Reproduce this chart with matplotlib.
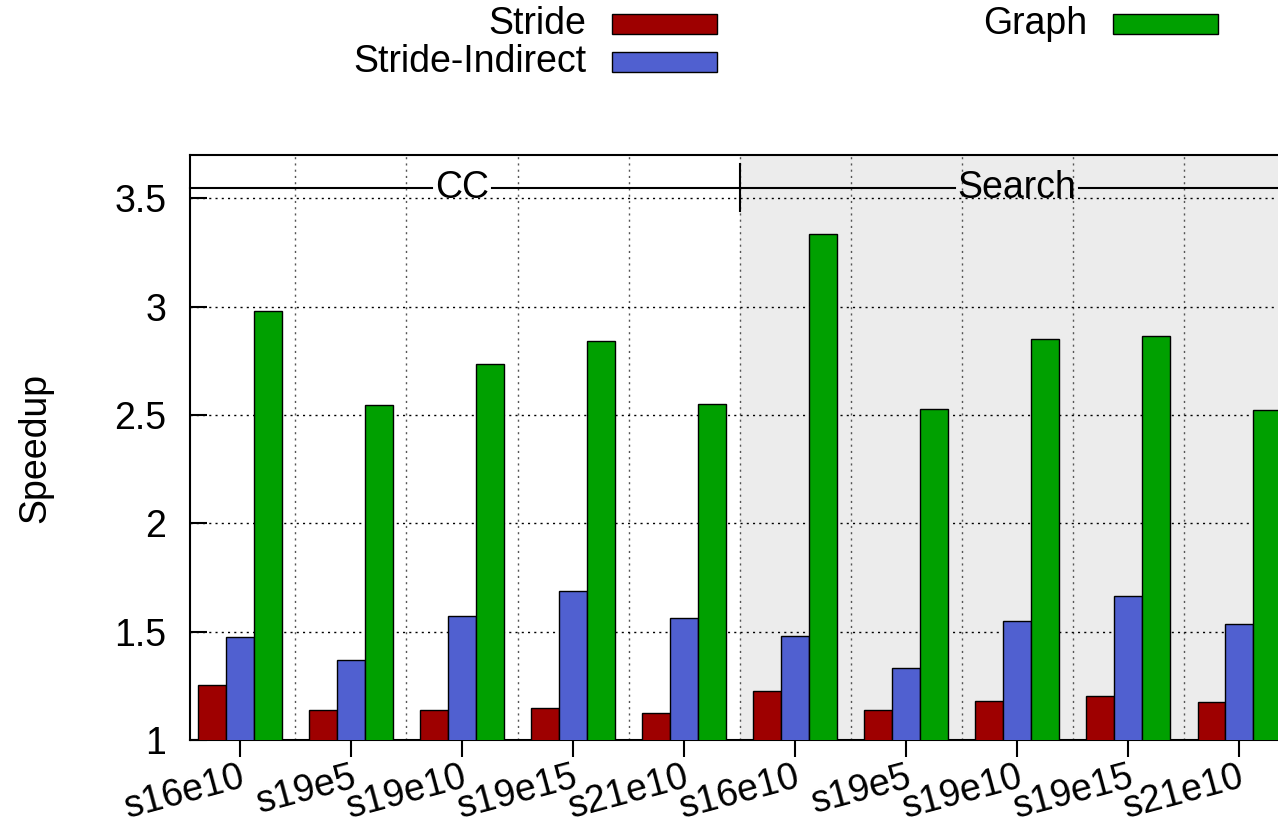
import numpy as np
import matplotlib
matplotlib.use("Agg")
import matplotlib.pyplot as plt
from matplotlib.patches import Rectangle

plt.rcParams["font.family"] = ["Liberation Sans", "DejaVu Sans"]
plt.rcParams["font.size"] = 27

# --- data
groups = ["CC", "Search"]
workloads = ["s16e10", "s19e5", "s19e10", "s19e15", "s21e10"]
series = ["Stride", "Stride-Indirect", "Graph"]
colors = ["#9e0000", "#5060d0", "#00a000"]
stride = [1.254, 1.137, 1.139, 1.146, 1.123, 1.226, 1.137, 1.179, 1.202, 1.174]
indirect = [1.474, 1.368, 1.572, 1.687, 1.562, 1.479, 1.334, 1.549, 1.665, 1.537]
graph = [2.981, 2.547, 2.736, 2.842, 2.551, 3.336, 2.528, 2.851, 2.865, 2.524]
yticks = [1, 1.5, 2, 2.5, 3, 3.5]

W, H = 1278, 824
fig = plt.figure(figsize=(W / 100, H / 100), dpi=100)
ax = fig.add_axes([190 / W, 84 / H, 1088 / W, 585 / H])

labels = workloads * len(groups)
x = np.arange(len(labels))
width = 0.25
for k, (vals, c) in enumerate(zip([stride, indirect, graph], colors)):
    ax.bar(x + (k - 1) * width, vals, width, color=c, edgecolor="black",
           linewidth=1.0, zorder=3)

nper = len(workloads)
xlo, xhi = -0.45, 9.35
ax.set_xlim(xlo, xhi)
ax.set_ylim(1, 3.7)

# shaded second group
ax.axvspan(nper - 0.5, xhi, color="#ececec", zorder=0, lw=0)

# grid: dotted lines at group boundaries and y ticks
for b in np.arange(0.5, len(labels) - 0.5, 1.0):
    ax.axvline(b, color="#555555", lw=1.0, ls=(0, (1.5, 3)), zorder=1)
for yv in yticks[1:]:
    ax.axhline(yv, color="black", lw=1.0, ls=(0, (1.5, 3)), zorder=1)

ax.set_yticks(yticks)
ax.set_yticklabels([f"{v:g}" for v in yticks])
ax.tick_params(axis="y", direction="in", length=12, width=1.5, pad=17)
ax.set_xticks(x)
ax.set_xticklabels(labels, rotation=15, ha="right", rotation_mode="anchor")
ax.tick_params(axis="x", direction="out", length=12, width=1.5, pad=2)
for s in ["left", "top", "bottom"]:
    ax.spines[s].set_linewidth(1.5)
ax.spines["right"].set_visible(False)

fig.text(35 / W, 1 - 448 / H, "Speedup", rotation=90, ha="center", va="center")

# group headers: line with a gap around the name
hy = 3.55
spans = [(xlo, nper - 0.5), (nper - 0.5, xhi)]
txts = []
for gi, g in enumerate(groups):
    cx = gi * nper + (nper - 1) / 2
    txts.append(ax.text(cx, hy, g, ha="center", va="center", zorder=5))
fig.canvas.draw()
inv = ax.transData.inverted()
for t, (a, b) in zip(txts, spans):
    bb = t.get_window_extent()
    x0 = inv.transform((bb.x0 - 3, 0))[0]
    x1 = inv.transform((bb.x1 + 3, 0))[0]
    ax.plot([a, x0], [hy, hy], color="black", lw=1.5, zorder=4, clip_on=False)
    ax.plot([x1, b], [hy, hy], color="black", lw=1.5, zorder=4, clip_on=False)
ax.plot([nper - 0.5, nper - 0.5], [3.44, 3.66], color="black", lw=1.5, zorder=4)

# key above the plot, text to the left of each swatch
key_pos = [(586, 24), (586, 62), (1087, 24)]
for name, c, (tx, ty) in zip(series, colors, key_pos):
    fig.text(tx / W, 1 - ty / H, name, ha="right", va="center")
    fig.add_artist(Rectangle(((tx + 26) / W, 1 - (ty + 10) / H), 105 / W, 20 / H,
                             transform=fig.transFigure, facecolor=c,
                             edgecolor="black", linewidth=1.0))

fig.savefig("out.png", dpi=100)
